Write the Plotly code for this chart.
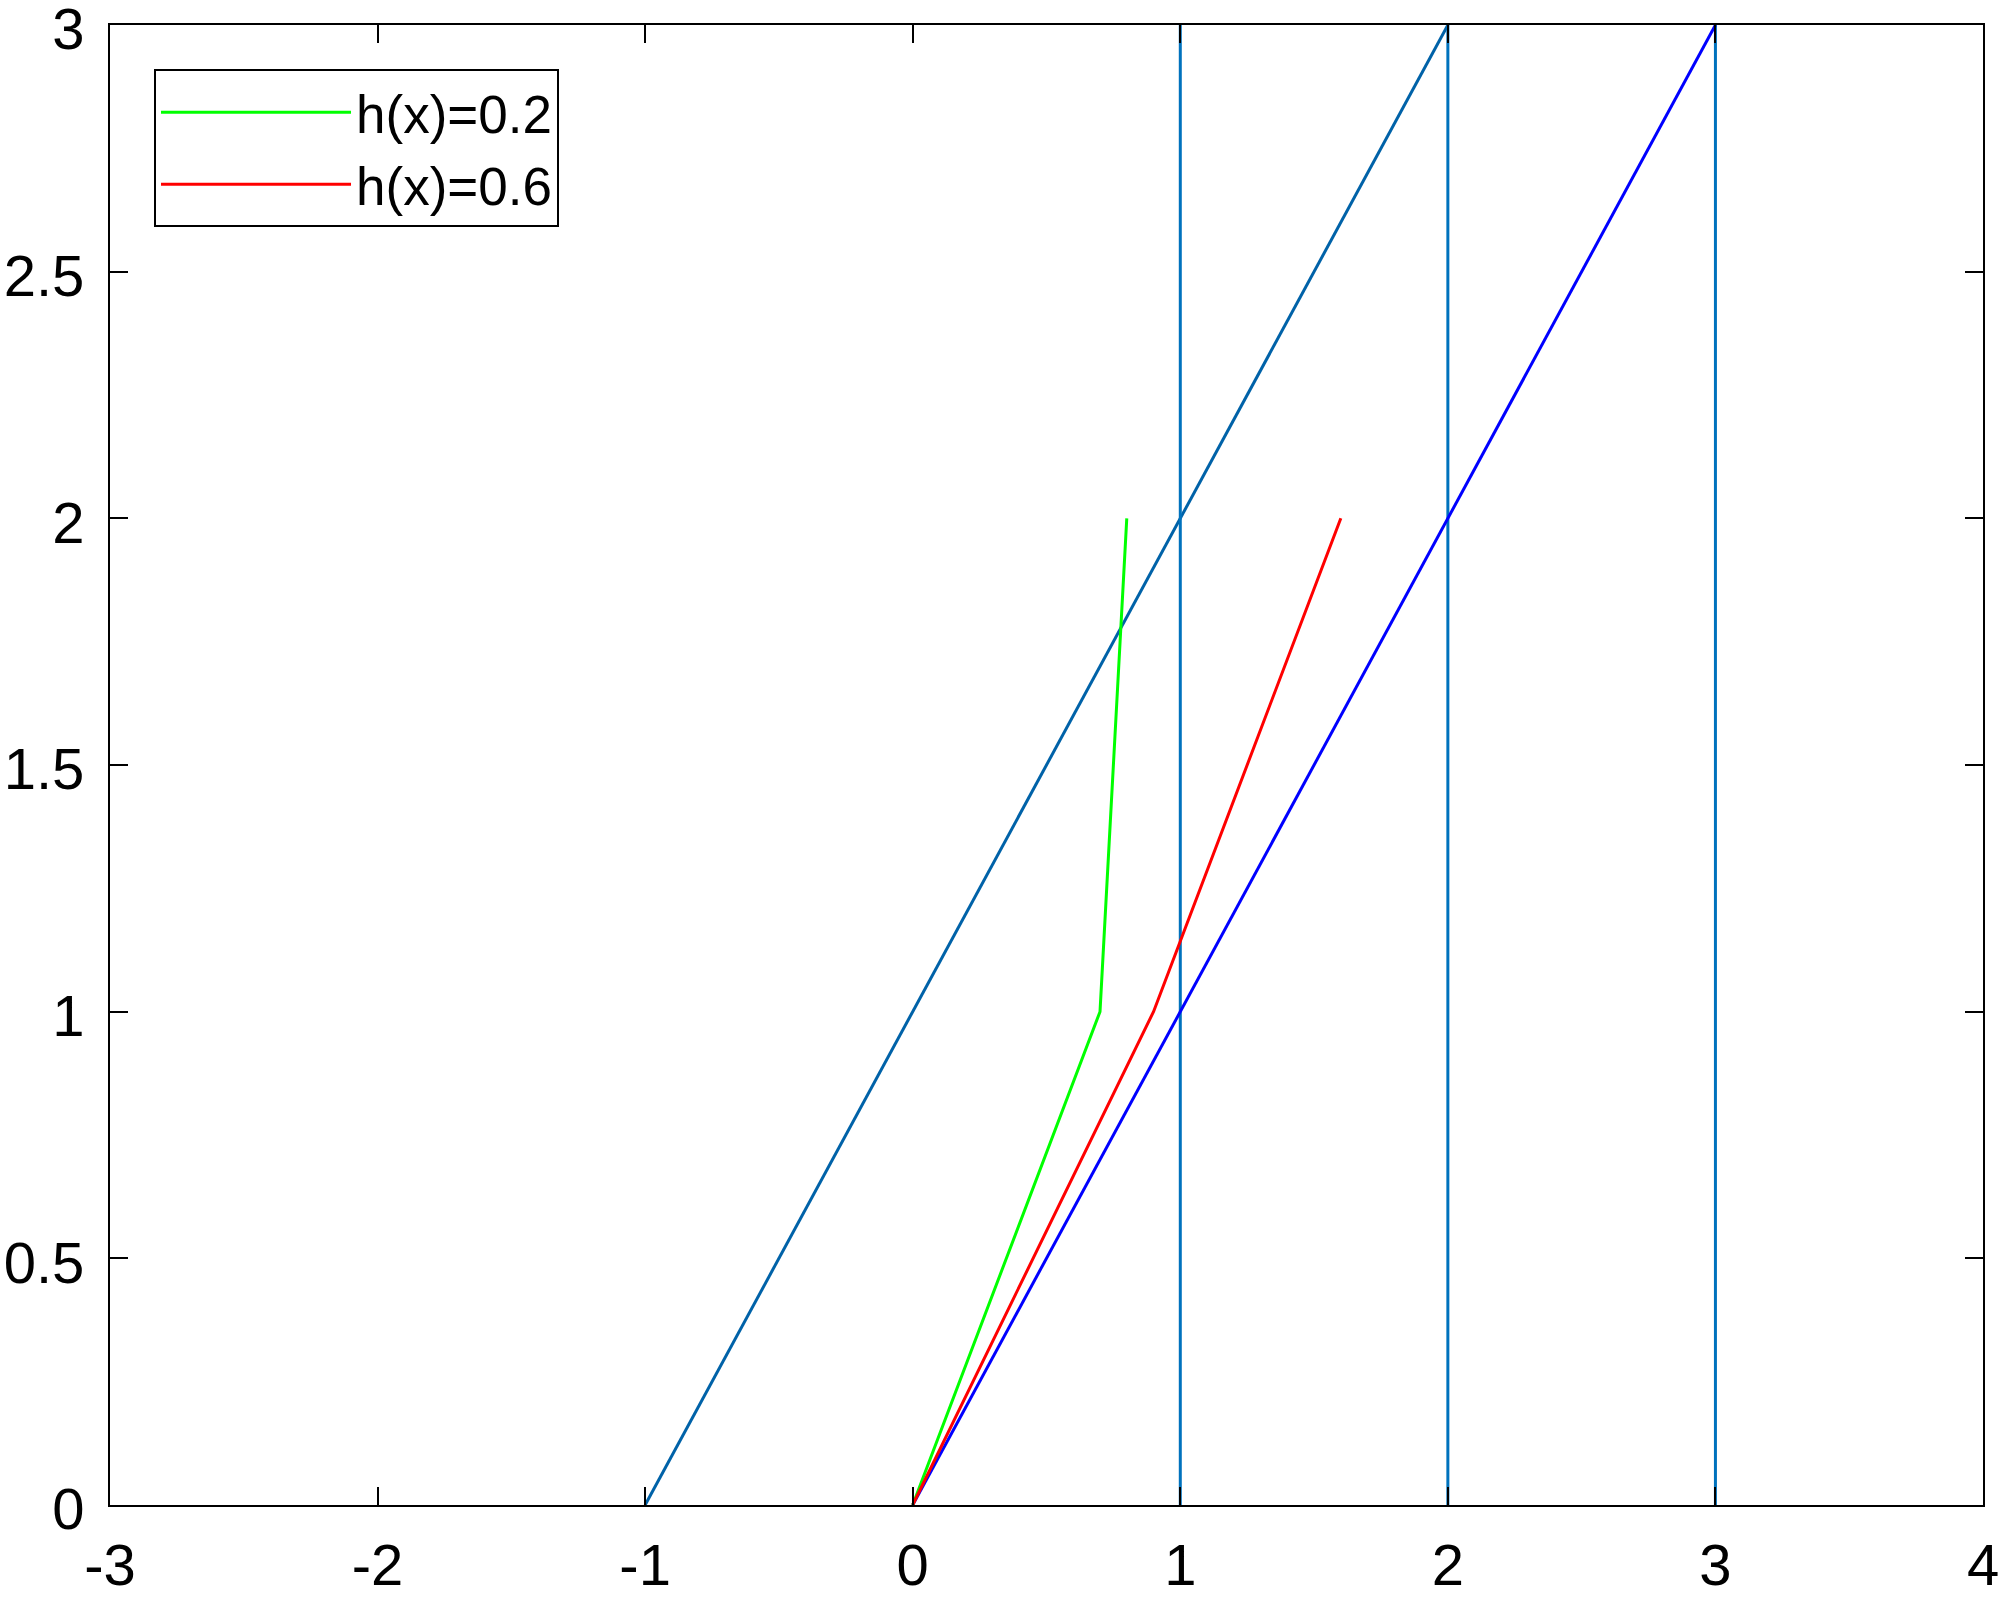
import plotly.graph_objects as go

# slanted line and the three vertical lines (MATLAB default blue)
diag_x = [-1, 2]
diag_y = [0, 3]
vert_x = [1, 2, 3]
vert_y = [0, 3]

# y = x line
ref_x = [0, 3]
ref_y = [0, 3]

# h(x)=0.2
green_x = [0, 0.7, 0.8]
green_y = [0, 1, 2]

# h(x)=0.6
red_x = [0, 0.9, 1.6]
red_y = [0, 1, 2]

x_ticks = [-3, -2, -1, 0, 1, 2, 3, 4]
y_ticks = [0, 0.5, 1, 1.5, 2, 2.5, 3]
y_tick_text = ['0', '0.5', '1', '1.5', '2', '2.5', '3']

mat_blue = '#0072BD'
lw = 3

fig = go.Figure()

fig.add_trace(go.Scatter(x=diag_x, y=diag_y, mode='lines',
                         line=dict(color='#0062A8', width=lw), showlegend=False))
for vx in vert_x:
    fig.add_trace(go.Scatter(x=[vx, vx], y=vert_y, mode='lines',
                             line=dict(color=mat_blue, width=lw), showlegend=False))
fig.add_trace(go.Scatter(x=ref_x, y=ref_y, mode='lines',
                         line=dict(color='#0000FF', width=lw), showlegend=False))
fig.add_trace(go.Scatter(x=green_x, y=green_y, mode='lines', name='h(x)=0.2',
                         line=dict(color='#00FF00', width=lw)))
fig.add_trace(go.Scatter(x=red_x, y=red_y, mode='lines', name='h(x)=0.6',
                         line=dict(color='#FF0000', width=lw)))

axis_common = dict(
    showgrid=False, zeroline=False, automargin=False,
    showline=True, linecolor='black', linewidth=2, mirror='ticks',
    ticks='inside', ticklen=18, tickwidth=2, tickcolor='black',
    ticklabeloverflow='allow',
    tickfont=dict(family='Liberation Sans, Arial', size=58, color='black'),
)

fig.update_xaxes(range=[-3, 4], tickvals=x_ticks, ticktext=[str(v) for v in x_ticks],
                 ticklabelstandoff=8, **axis_common)
fig.update_yaxes(range=[0, 3], tickvals=y_ticks, ticktext=y_tick_text,
                 ticklabelstandoff=12, ticklabelshift=4, **axis_common)

fig.update_layout(
    width=2000, height=1601,
    margin=dict(l=110, r=17, t=25, b=96),
    plot_bgcolor='white', paper_bgcolor='white',
    legend=dict(
        x=0.0235, y=0.97, xanchor='left', yanchor='top',
        bgcolor='white', bordercolor='black', borderwidth=2,
        font=dict(family='Liberation Sans, Arial', size=53, color='black'),
        itemwidth=190, tracegroupgap=0,
    ),
)

# drop the default 8px page margin so the figure fills the window
fig.write_html("out.html", config={'displayModeBar': False},
               post_script="document.body.style.margin='0';")
